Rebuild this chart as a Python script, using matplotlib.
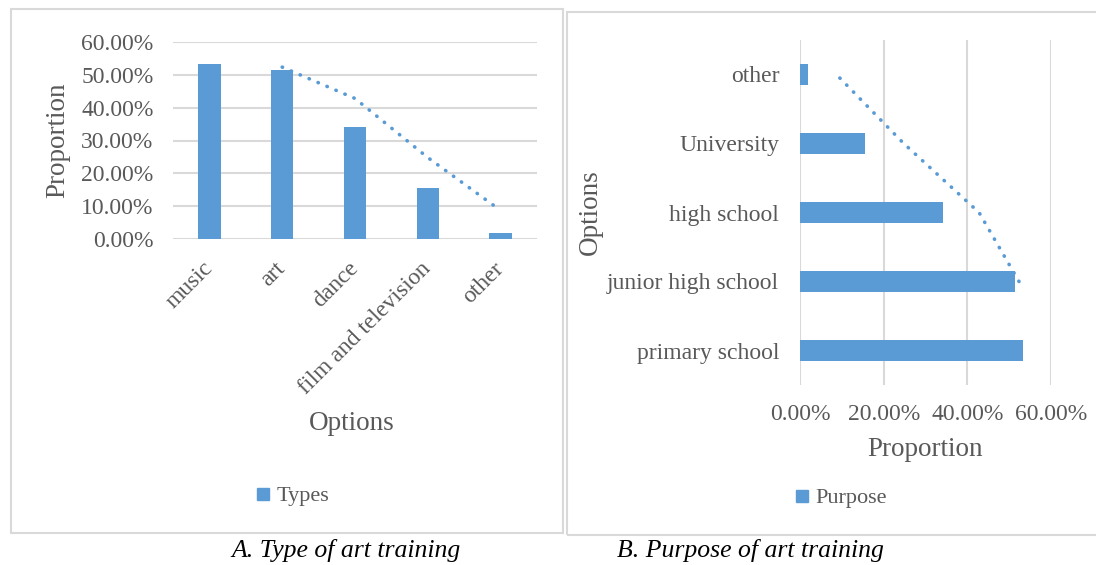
import matplotlib
matplotlib.use("Agg")
import matplotlib.pyplot as plt
import numpy as np
from matplotlib.patches import Rectangle
from matplotlib.lines import Line2D
from matplotlib.ticker import PercentFormatter

# Survey shares (%)
type_labels = ["music", "art", "dance", "film and television", "other"]
type_values = [53.2, 51.5, 34.1, 15.5, 1.9]

purpose_labels = ["primary school", "junior high school", "high school", "University", "other"]
purpose_values = [53.2, 51.5, 34.1, 15.5, 1.9]

BAR = "#5B9BD5"
GRID = "#D9D9D9"
TXT = "#595959"

plt.rcParams["font.family"] = ["Liberation Serif", "DejaVu Serif"]

W, H = 1096, 565
fig = plt.figure(figsize=(W / 100, H / 100), dpi=100)


def fx(px):
    return px / W


def fy(py):
    return 1 - py / H


def moving_average(vals, n=2):
    v = np.asarray(vals, dtype=float)
    return np.convolve(v, np.ones(n) / n, mode="valid")


# panel frames
fig.patches.append(Rectangle((fx(11), fy(533)), fx(563) - fx(11), fy(9) - fy(533),
                             transform=fig.transFigure, fill=False, ec=GRID, lw=1.5))
fig.patches.append(Rectangle((fx(567), fy(535)), fx(1100) - fx(567), fy(12) - fy(535),
                             transform=fig.transFigure, fill=False, ec=GRID, lw=1.5))

# ---- A: type of art training (vertical bars)
axA = fig.add_axes([fx(173), fy(239), fx(537) - fx(173), fy(42) - fy(239)])
xa = np.arange(len(type_labels))
axA.bar(xa, type_values, width=0.31, color=BAR, zorder=3)
ma = moving_average(type_values)
axA.plot(xa[1:], ma, linestyle=(0, (0.1, 2.6)), dash_capstyle="round", color=BAR, lw=2.6, zorder=4)
axA.set_xlim(-0.5, len(type_labels) - 0.5)
axA.set_ylim(0, 60)
axA.set_yticks(np.arange(0, 61, 10))
axA.yaxis.set_major_formatter(PercentFormatter(decimals=2))
axA.grid(axis="y", color=GRID, lw=1.5, zorder=0)
for s in axA.spines.values():
    s.set_visible(False)
axA.tick_params(axis="both", length=0, colors=TXT, labelsize=17)
axA.tick_params(axis="y", pad=14)
axA.set_xticks(xa)
axA.set_xticklabels(type_labels, rotation=45, ha="right", va="center",
                    rotation_mode="anchor", fontsize=17, color=TXT)
axA.tick_params(axis="x", pad=19)
fig.text(fx(58), fy(140), "Proportion", rotation=90, ha="center", va="center",
         fontsize=19.5, color=TXT)
fig.text(fx(352), fy(424), "Options", ha="center", va="center", fontsize=19.5, color=TXT)
fig.legend(handles=[Line2D([], [], ls="none", marker="s", ms=8, color=BAR)],
           labels=["Types"], loc="center", bbox_to_anchor=(fx(293), fy(496)),
           frameon=False, fontsize=16, labelcolor=TXT, handlelength=0.6,
           handletextpad=0.3)

# ---- B: purpose of art training (horizontal bars)
axB = fig.add_axes([fx(800), fy(385), fx(1051) - fx(800), fy(40) - fy(385)])
yb = np.arange(len(purpose_labels))
axB.barh(yb, purpose_values, height=0.31, color=BAR, zorder=3)
mb = moving_average(purpose_values)
axB.plot(mb, yb[1:], linestyle=(0, (0.1, 2.6)), dash_capstyle="round", color=BAR, lw=2.6, zorder=4)
axB.set_ylim(-0.5, len(purpose_labels) - 0.5)
axB.set_xlim(0, 60)
axB.set_xticks(np.arange(0, 61, 20))
axB.xaxis.set_major_formatter(PercentFormatter(decimals=2))
axB.grid(axis="x", color=GRID, lw=1.5, zorder=0)
for s in axB.spines.values():
    s.set_visible(False)
axB.tick_params(axis="both", length=0, colors=TXT, labelsize=17)
axB.tick_params(axis="x", pad=14)
axB.tick_params(axis="y", pad=15)
axB.set_yticks(yb)
axB.set_yticklabels(purpose_labels, fontsize=17, color=TXT)
fig.text(fx(590), fy(212), "Options", rotation=90, ha="center", va="center",
         fontsize=19.5, color=TXT)
fig.text(fx(925), fy(450), "Proportion", ha="center", va="center", fontsize=19.5, color=TXT)
fig.legend(handles=[Line2D([], [], ls="none", marker="s", ms=8, color=BAR)],
           labels=["Purpose"], loc="center", bbox_to_anchor=(fx(841), fy(498)),
           frameon=False, fontsize=16, labelcolor=TXT, handlelength=0.6,
           handletextpad=0.3)

# captions
fig.text(fx(346), fy(551), "A. Type of art training", ha="center", va="center",
         fontsize=18.5, style="italic", color="black")
fig.text(fx(750), fy(551), "B. Purpose of art training", ha="center", va="center",
         fontsize=18.5, style="italic", color="black")

fig.savefig("out.png", dpi=100)
